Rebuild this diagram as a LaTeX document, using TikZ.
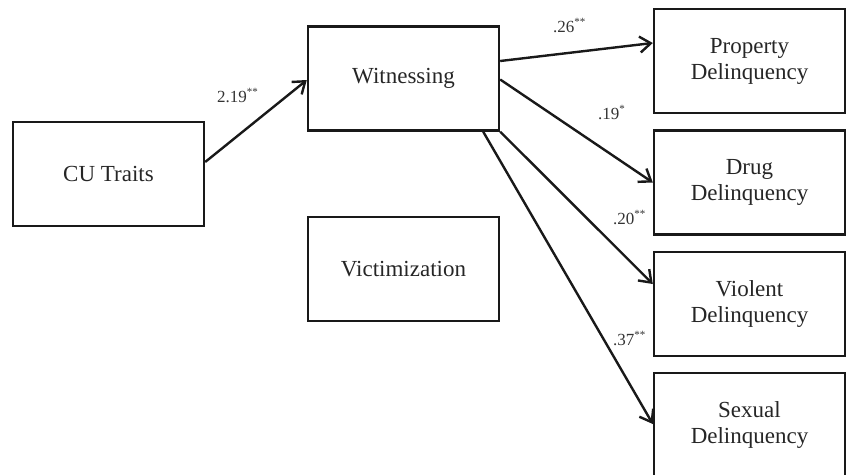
\documentclass[tikz,border=0pt]{standalone}
\usepackage{fontspec}
\setmainfont{Liberation Serif}
\usetikzlibrary{arrows.meta,calc}
\tikzset{
  box/.style={draw=black!90, line width=2.4pt, minimum width=191pt, minimum height=104pt,
    align=center, inner sep=0pt, font=\fontsize{23}{26}\selectfont, text=black!85},
  path/.style={draw=black!90, line width=2.4pt, -{Straight Barb[length=11pt,width=16pt,line width=2.4pt]}},
  coef/.style={anchor=base west, inner sep=0pt, font=\fontsize{17}{19}\selectfont, text=black!80}
}
\newcommand{\sig}[1]{\textsuperscript{\fontsize{11}{11}\selectfont #1}}
\begin{document}
\begin{tikzpicture}[x=1pt,y=-1pt]
\useasboundingbox (0,0) rectangle (846,474);
\node[box] (cu)   at (108.5,174) {CU Traits};
\node[box] (wit)  at (403.5,78.5) {Witnessing};
\node[box] (vic)  at (403.5,269) {Victimization};
\node[box] (prop) at (749.5,61) {Property\\Delinquency};
\node[box] (drug) at (749.5,182.5) {Drug\\Delinquency};
\node[box] (viol) at (749.5,304) {Violent\\Delinquency};
\node[box] (sex)  at (749.5,425) {Sexual\\Delinquency};

\draw[path] ([yshift=12pt]cu.east) -- ([yshift=-1.5pt]wit.west);
\draw[path] ([yshift=17.5pt]wit.east) -- ([yshift=18pt]prop.west);
\draw[path] ([yshift=-1pt]wit.east) -- (drug.west);
\draw[path] (wit.south east) -- ([yshift=20pt]viol.west);
\draw[path] ([xshift=-17pt]wit.south east) -- ([yshift=1pt]sex.west);

\node[coef] (l1) at (217,102) {2.19\sig{**}};
\node[coef] (l2) at (553,32) {.26\sig{**}};
\node[coef] (l3) at (598,119) {.19\sig{*}};
\node[coef] (l4) at (613,224) {.20\sig{**}};
\node[coef] (l5) at (613,345) {.37\sig{**}};
\end{tikzpicture}
\end{document}
